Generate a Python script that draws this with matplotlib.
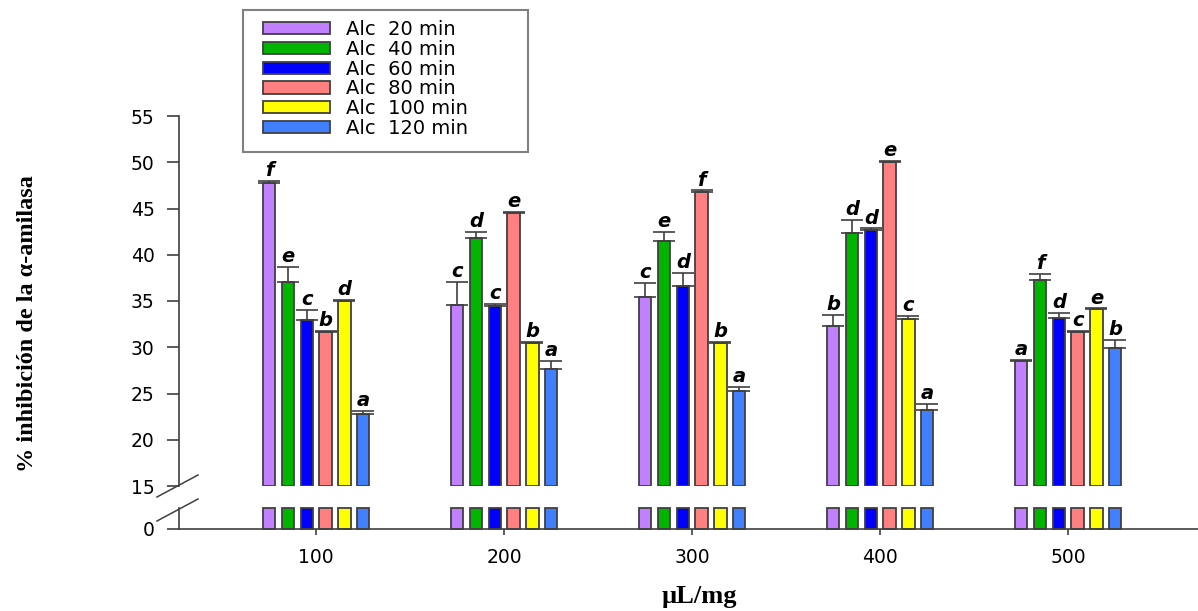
import numpy as np
import matplotlib.pyplot as plt
from matplotlib.lines import Line2D
from matplotlib.patches import Rectangle

# dosis (x) y series
doses = [100, 200, 300, 400, 500]
series = ['Alc  20 min', 'Alc  40 min', 'Alc  60 min',
          'Alc  80 min', 'Alc  100 min', 'Alc  120 min']
colors = ['#C080FF', '#00B400', '#0000FF', '#FF8080', '#FFFF00', '#4080FF']

alc20 = [47.8, 34.6, 35.4, 32.3, 28.5]
alc40 = [37.1, 41.8, 41.5, 42.4, 37.3]
alc60 = [33.0, 34.5, 36.6, 42.7, 33.2]
alc80 = [31.6, 44.5, 46.8, 50.0, 31.6]
alc100 = [35.0, 30.5, 30.5, 33.05, 34.1]
alc120 = [22.8, 27.7, 25.3, 23.2, 29.9]

err20 = [0.15, 2.5, 1.6, 1.2, 0.15]
err40 = [1.6, 0.7, 1.0, 1.4, 0.6]
err60 = [1.0, 0.2, 1.4, 0.15, 0.5]
err80 = [0.2, 0.15, 0.15, 0.1, 0.2]
err100 = [0.1, 0.1, 0.1, 0.3, 0.1]
err120 = [0.3, 0.8, 0.4, 0.7, 0.9]

let20 = ['f', 'c', 'c', 'b', 'a']
let40 = ['e', 'd', 'e', 'd', 'f']
let60 = ['c', 'c', 'd', 'd', 'd']
let80 = ['b', 'e', 'f', 'e', 'c']
let100 = ['d', 'b', 'b', 'c', 'e']
let120 = ['a', 'a', 'a', 'a', 'b']

values = [alc20, alc40, alc60, alc80, alc100, alc120]
errors = [err20, err40, err60, err80, err100, err120]
letters = [let20, let40, let60, let80, let100, let120]

W, H = 1198, 611
fig = plt.figure(figsize=(W / 100, H / 100), dpi=100)

# eje superior (15-55) y eje inferior (0) con corte
ax_top = fig.add_axes([179 / W, 1 - 486 / H, (W - 179) / W, (486 - 116) / H])
ax_bot = fig.add_axes([179 / W, 1 - 529 / H, (W - 179) / W, (529 - 508) / H])

LOW_TOP = 2.2
edge = '#404040'
x = np.array(doses, dtype=float)
pitch, width = 10, 6.6

for i, (vals, errs, lets) in enumerate(zip(values, errors, letters)):
    xi = x + (i - 2.5) * pitch
    vals = np.array(vals)
    ax_top.bar(xi, vals - 15, bottom=15, width=width, color=colors[i],
               edgecolor=edge, linewidth=1.3, label=series[i])
    ax_top.errorbar(xi, vals, yerr=[np.zeros_like(vals), errs], fmt='none',
                    ecolor=edge, elinewidth=1.2, capsize=8, capthick=1.2)
    ax_bot.bar(xi, np.minimum(vals, LOW_TOP), width=width, color=colors[i],
               edgecolor=edge, linewidth=1.3, clip_on=False)
    for xx, v, e, t in zip(xi, vals, errs, lets):
        ax_top.annotate(t, (xx, v + e), xytext=(0, 3.5), textcoords='offset points',
                        ha='center', va='baseline', fontsize=14,
                        fontweight='bold', fontstyle='italic', color='black')

for ax in (ax_top, ax_bot):
    ax.set_xlim(27, 569)
    ax.set_facecolor('none')
    for s in ax.spines.values():
        s.set_color(edge)
        s.set_linewidth(1.2)
    ax.spines['top'].set_visible(False)
    ax.spines['right'].set_visible(False)

ax_top.spines['bottom'].set_visible(False)
ax_top.set_ylim(15, 55)
ax_top.set_yticks(range(15, 56, 5))
ax_top.tick_params(axis='x', bottom=False, labelbottom=False)
ax_top.tick_params(axis='y', direction='out', length=8.5, width=1.2,
                   color=edge, pad=9, labelsize=13.5)

ax_bot.set_ylim(0, LOW_TOP)
ax_bot.set_yticks([0])
ax_bot.set_xticks(doses)
ax_bot.tick_params(axis='y', direction='out', length=8.5, width=1.2,
                   color=edge, pad=9, labelsize=13.5)
ax_bot.tick_params(axis='x', direction='out', length=4.5, width=1.2,
                   color=edge, pad=9, labelsize=13.5)

# marcas de corte
for y0 in (497, 521):
    fig.add_artist(Line2D([157 / W, 198 / W], [1 - y0 / H, 1 - (y0 - 22) / H],
                          transform=fig.transFigure, color=edge, linewidth=1.1))

fig.text(28 / W, 1 - 324 / H, '% inhibición de la α-amilasa', rotation=90,
         ha='center', va='center', fontsize=17.5, fontweight='bold',
         family='Liberation Serif')
fig.text(699 / W, 1 - 597 / H, 'µL/mg', ha='center', va='center',
         fontsize=19, fontweight='bold', family='Liberation Serif')

# leyenda con marco fijo
fig.add_artist(Rectangle((243 / W, 1 - 152 / H), 285 / W, 142 / H,
                         transform=fig.transFigure, facecolor='white',
                         edgecolor='#808080', linewidth=1.5, zorder=2))
handles, labels = ax_top.get_legend_handles_labels()
leg = fig.legend(handles, labels, loc='upper left',
                 bbox_to_anchor=(263 / W, 1 - 20 / H), bbox_transform=fig.transFigure,
                 fontsize=14, handlelength=3.45, handleheight=0.6,
                 labelspacing=0.04, handletextpad=0.8, borderpad=0,
                 borderaxespad=0, frameon=False)
leg.set_zorder(3)

fig.savefig('out.png', dpi=100)
